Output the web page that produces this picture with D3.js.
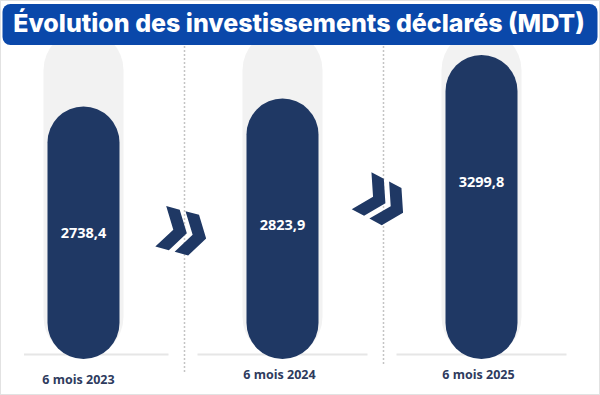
<!DOCTYPE html>
<html>
<head>
<meta charset="utf-8">
<script src="https://cdn.jsdelivr.net/npm/d3@7"></script>
<style>
  body { margin: 0; background: #fff; }
  svg { display: block; }
</style>
</head>
<body>
<div id="chart"></div>
<script>
var svgWidth = 600;
var svgHeight = 395;

// data
var periods = ["6 mois 2023", "6 mois 2024", "6 mois 2025"];
var investments = [2738.4, 2823.9, 3299.8];
var valueLabels = ["2738,4", "2823,9", "3299,8"];
var title = "Évolution des investissements déclarés (MDT)";

var navy = "#1f3864";
var baseY = 357;

var svg = d3.select("#chart")
  .append("svg")
  .attr("width", svgWidth)
  .attr("height", svgHeight);

// light frame round the whole picture
svg.append("rect")
  .attr("x", 0.5).attr("y", 0.5)
  .attr("width", svgWidth - 1).attr("height", svgHeight - 1)
  .attr("fill", "#fff")
  .attr("stroke", "#e2e2e2");

// scales
var xScale = d3.scalePoint()
  .domain(periods)
  .range([83.5, 481.5]);

var yScale = d3.scaleLinear()
  .domain([0, 3400])
  .range([baseY, baseY - 3400 * 0.0915]);

var barWidth = 72;
var bgWidth = 80;

// grey track behind each bar
svg.selectAll(".track")
  .data(periods)
  .enter()
  .append("rect")
  .attr("class", "track")
  .attr("x", d => xScale(d) - bgWidth / 2)
  .attr("y", 30)
  .attr("width", bgWidth)
  .attr("height", baseY - 30)
  .attr("rx", bgWidth / 2)
  .attr("fill", "#f2f2f2");

// baseline under each bar
svg.selectAll(".base")
  .data(periods)
  .enter()
  .append("line")
  .attr("class", "base")
  .attr("x1", d => Math.max(24, xScale(d) - 85))
  .attr("x2", d => xScale(d) + 85)
  .attr("y1", 354.5)
  .attr("y2", 354.5)
  .attr("stroke", "#e6e6e6")
  .attr("stroke-width", 2);

// dotted separators between periods
var seps = periods.slice(1).map((d, i) => (xScale(periods[i]) + xScale(d)) / 2);
svg.selectAll(".sep")
  .data(seps)
  .enter()
  .append("line")
  .attr("class", "sep")
  .attr("x1", d => d + 1.5)
  .attr("x2", d => d + 1.5)
  .attr("y1", 46)
  .attr("y2", (d, i) => i === 0 ? 372 : 365)
  .attr("stroke", "#c4c4c4")
  .attr("stroke-width", 1.5)
  .attr("stroke-dasharray", "2,2");

// the bars, rounded at both ends
svg.selectAll(".bar")
  .data(investments)
  .enter()
  .append("rect")
  .attr("class", "bar")
  .attr("x", (d, i) => xScale(periods[i]) - barWidth / 2)
  .attr("y", d => yScale(d))
  .attr("width", barWidth)
  .attr("height", d => baseY - yScale(d) + 2)
  .attr("rx", barWidth / 2)
  .attr("fill", navy);

// values inside the bars
svg.selectAll(".val")
  .data(valueLabels)
  .enter()
  .append("text")
  .attr("class", "val")
  .attr("x", (d, i) => xScale(periods[i]))
  .attr("y", (d, i) => yScale(investments[i]) + 128)
  .attr("text-anchor", "middle")
  .attr("dominant-baseline", "middle")
  .attr("fill", "#fff")
  .attr("font-family", "Open Sans, sans-serif")
  .attr("font-weight", "bold")
  .attr("font-size", 14.5)
  .text(d => d);

// period labels
svg.selectAll(".period")
  .data(periods)
  .enter()
  .append("text")
  .attr("class", "period")
  .attr("x", (d, i) => xScale(d) - (i === 0 ? 5 : 3))
  .attr("y", (d, i) => i === 0 ? 381 : 376)
  .attr("text-anchor", "middle")
  .attr("dominant-baseline", "middle")
  .attr("fill", "#2e3b5e")
  .attr("font-family", "Open Sans, sans-serif")
  .attr("font-weight", "bold")
  .attr("font-size", 12.5)
  .text(d => d);

// double chevrons between bars
var chevron = "M-12,-21 L2,-21 L15,0 L2,21 L-12,21 L1,0 Z";
var tilts = [15, 28];
var chevGroups = svg.selectAll(".chev")
  .data(seps)
  .enter()
  .append("g")
  .attr("class", "chev")
  .attr("transform", (d, i) => `translate(${d - 1},${i === 0 ? 232 : 201}) rotate(${tilts[i]})`);

chevGroups.append("path")
  .attr("d", chevron)
  .attr("transform", "translate(-10,0)")
  .attr("fill", navy);
chevGroups.append("path")
  .attr("d", chevron)
  .attr("transform", "translate(10,0)")
  .attr("fill", navy);

// title banner
svg.append("rect")
  .attr("x", 2.5).attr("y", 4)
  .attr("width", 595).attr("height", 41)
  .attr("rx", 8)
  .attr("fill", "#0a48aa");

var titleText = svg.append("text")
  .attr("x", 299)
  .attr("y", 25.5)
  .attr("text-anchor", "middle")
  .attr("dominant-baseline", "middle")
  .attr("fill", "#fff")
  .attr("font-family", "Inter, sans-serif")
  .attr("font-weight", 800)
  .attr("font-size", 25)
  .text(title);

// fit the title to the width seen in the picture
var tw = titleText.node().getComputedTextLength();
titleText.attr("font-size", 25 * 572 / tw);
</script>
</body>
</html>
